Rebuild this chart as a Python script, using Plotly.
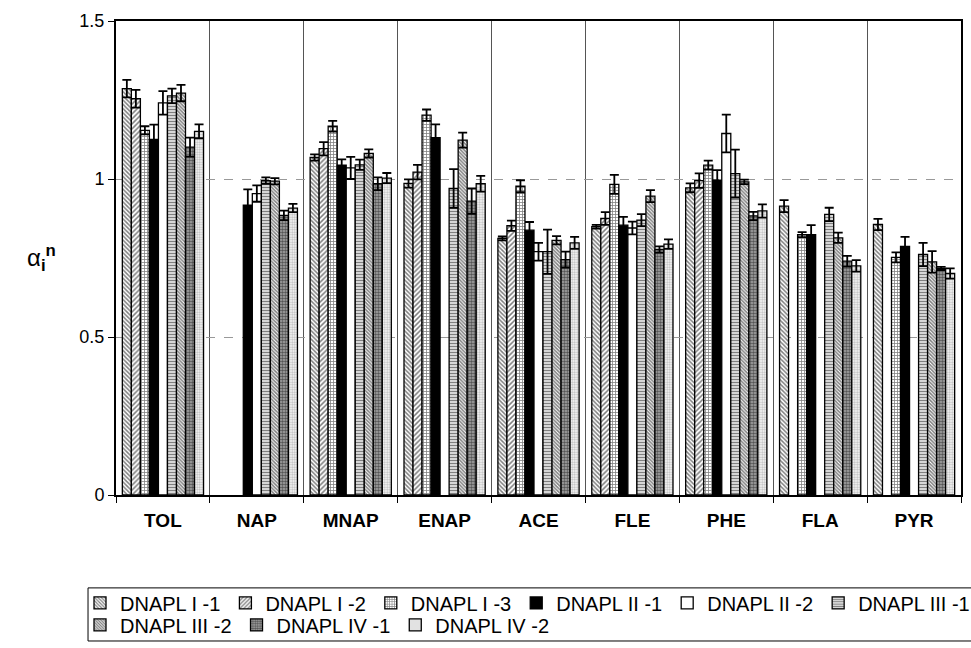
import plotly.graph_objects as go

categories = ["TOL", "NAP", "MNAP", "ENAP", "ACE", "FLE", "PHE", "FLA", "PYR"]
series_names = ["DNAPL I -1", "DNAPL I -2", "DNAPL I -3", "DNAPL II -1", "DNAPL II -2",
                "DNAPL III -1", "DNAPL III -2", "DNAPL IV -1", "DNAPL IV -2"]

dnapl_1_1 = [1.286, None, 1.068, 0.986, 0.812, 0.849, 0.972, 0.914, 0.856]
dnapl_1_2 = [1.254, None, 1.096, 1.022, 0.852, 0.875, 0.995, None, None]
dnapl_1_3 = [1.154, None, 1.167, 1.202, 0.977, 0.983, 1.044, 0.824, 0.752]
dnapl_2_1 = [1.125, 0.917, 1.044, 1.131, 0.838, 0.854, 0.996, 0.824, 0.787]
dnapl_2_2 = [1.241, 0.954, 1.035, None, 0.770, 0.845, 1.144, None, None]
dnapl_3_1 = [1.263, 0.995, 1.045, 0.970, 0.770, 0.870, 1.017, 0.888, 0.761]
dnapl_3_2 = [1.272, 0.993, 1.081, 1.123, 0.806, 0.946, 0.991, 0.814, 0.738]
dnapl_4_1 = [1.101, 0.885, 0.985, 0.930, 0.745, 0.777, 0.883, 0.740, 0.717]
dnapl_4_2 = [1.151, 0.908, 1.003, 0.985, 0.798, 0.794, 0.899, 0.725, 0.701]

err_1_1 = [0.028, 0, 0.010, 0.013, 0.006, 0.006, 0.014, 0.019, 0.018]
err_1_2 = [0.028, 0, 0.021, 0.023, 0.016, 0.020, 0.023, 0, 0]
err_1_3 = [0.013, 0, 0.017, 0.018, 0.019, 0.030, 0.014, 0.008, 0.016]
err_2_1 = [0.047, 0.050, 0.018, 0.042, 0.026, 0.026, 0.032, 0.030, 0.030]
err_2_2 = [0.037, 0.026, 0.035, 0, 0.028, 0.020, 0.060, 0, 0]
err_3_1 = [0.023, 0.010, 0.016, 0.061, 0.070, 0.019, 0.076, 0.021, 0.037]
err_3_2 = [0.026, 0.010, 0.013, 0.024, 0.013, 0.019, 0.007, 0.016, 0.034]
err_4_1 = [0.030, 0.015, 0.020, 0.040, 0.025, 0.010, 0.013, 0.017, 0.005]
err_4_2 = [0.022, 0.013, 0.016, 0.025, 0.019, 0.015, 0.021, 0.018, 0.016]

values = [dnapl_1_1, dnapl_1_2, dnapl_1_3, dnapl_2_1, dnapl_2_2,
          dnapl_3_1, dnapl_3_2, dnapl_4_1, dnapl_4_2]
errors = [err_1_1, err_1_2, err_1_3, err_2_1, err_2_2,
          err_3_1, err_3_2, err_4_1, err_4_2]
legend_rows = ["legend", "legend", "legend", "legend", "legend", "legend",
               "legend2", "legend2", "legend2"]

y_ticks = [0, 0.5, 1, 1.5]
y_ticktext = ["0", "0.5", "1", "1.5"]

styles = [
    dict(color="white", pattern=dict(shape="\\", fgcolor="black", bgcolor="white", size=3, solidity=0.5)),
    dict(color="white", pattern=dict(shape="/", fgcolor="black", bgcolor="white", size=3.5, solidity=0.45)),
    dict(color="white", pattern=dict(shape="+", fgcolor="black", bgcolor="white", size=3, solidity=0.45)),
    dict(color="black"),
    dict(color="white"),
    dict(color="white", pattern=dict(shape="-", fgcolor="black", bgcolor="white", size=3, solidity=0.55)),
    dict(color="white", pattern=dict(shape="\\", fgcolor="black", bgcolor="white", size=2.5, solidity=0.6)),
    dict(color="#666", pattern=dict(shape=".", fgcolor="black", bgcolor="#aaa", size=3, solidity=0.55)),
    dict(color="white", pattern=dict(shape=".", fgcolor="#777", bgcolor="white", size=2.5, solidity=0.5)),
]

FONT = "Liberation Sans, Arial, Helvetica, sans-serif"

fig = go.Figure()
for name, vals, errs, st, lg in zip(series_names, values, errors, styles, legend_rows):
    fig.add_trace(go.Bar(
        name=name, x=categories, y=vals, legend=lg,
        marker=dict(line=dict(color="black", width=1.3), **st),
        error_y=dict(type="data", array=errs, visible=True, color="black",
                     thickness=1.8, width=4.5),
    ))

legend_common = dict(orientation="h", xanchor="left", yanchor="middle",
                     borderwidth=0, bgcolor="rgba(0,0,0,0)",
                     font=dict(size=20, family=FONT),
                     tracegroupgap=0, itemwidth=30,
                     traceorder="normal")

fig.update_layout(
    width=971, height=648,
    margin=dict(l=116, r=10, t=21, b=153, autoexpand=False),
    paper_bgcolor="white", plot_bgcolor="white",
    barmode="group", bargap=0.135, bargroupgap=0,
    font=dict(family=FONT, color="black"),
    showlegend=True,
    legend=dict(x=-0.0426, y=-0.2277, **legend_common),
    legend2=dict(x=-0.0426, y=-0.2741, **legend_common),
    xaxis=dict(type="category", tickson="boundaries", showgrid=True, gridcolor="#555",
               gridwidth=1, ticks="outside", ticklen=6, tickcolor="black",
               showline=True, linecolor="black", linewidth=2, mirror=True,
               tickfont=dict(size=19, family=FONT, weight="bold"),
               ticklabelstandoff=7, automargin=False),
    yaxis=dict(range=[0, 1.5], tickvals=y_ticks, ticktext=y_ticktext,
               ticks="outside", ticklen=6, tickcolor="black",
               showgrid=True, gridcolor="#999", griddash="dash", gridwidth=1,
               showline=True, linecolor="black", linewidth=2, mirror=True,
               zeroline=False, tickfont=dict(size=18, family=FONT), automargin=False),
    shapes=[dict(type="rect", xref="paper", yref="paper",
                 x0=-0.0426 + 0.0095, x1=1.015, y0=-0.196, y1=-0.308,
                 line=dict(color="black", width=1), fillcolor="rgba(0,0,0,0)", layer="above")],
    annotations=[dict(text="α<sub><b>i</b></sub><sup><b>n</b></sup>", xref="paper", yref="paper",
                      x=-0.108, y=0.5, showarrow=False, font=dict(size=24, family=FONT))],
)

fig.write_html("out.html")
